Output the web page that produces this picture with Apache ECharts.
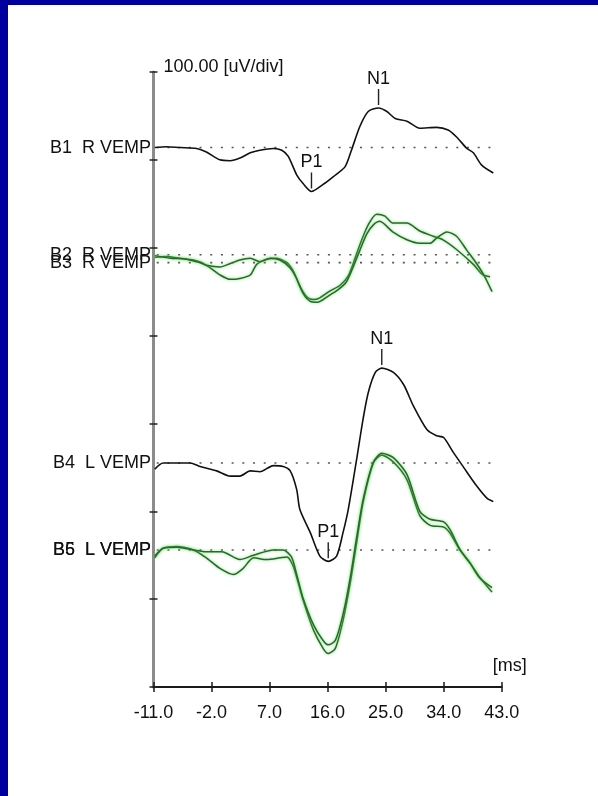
<!DOCTYPE html>
<html>
<head>
<meta charset="utf-8">
<script src="https://cdn.jsdelivr.net/npm/echarts@6/dist/echarts.min.js"></script>
<style>
  html, body { margin: 0; padding: 0; background: #ffffff; }
  #chart { width: 598px; height: 796px; }
</style>
</head>
<body>
<div id="chart"></div>
<script>
// Time axis ticks (ms) and amplitude scale (uV, 100 uV per division)
const timeTicks = [-11, -2, 7, 16, 25, 34, 43];
const ampMax = 700;
const ampStep = 100;

// Trace names and their baseline offsets on the amplitude axis (uV)
const traceNames = ['B1  R VEMP', 'B2  R VEMP', 'B3  R VEMP', 'B4  L VEMP', 'B5  L VEMP', 'B6  L VEMP'];
const baselines = [614, 492, 483, 255, 156, 156];

// Averaged responses: [time ms, amplitude uV relative to baseline]
const b1 = [[-10.8,0],[-9.0,1],[-6.9,0],[-4.3,-1],[-2.8,-5],[-0.7,-14],[0.9,-15],[2.4,-12],[4.0,-6],[5.5,-3],[7.6,-1],[8.9,-3],[9.9,-10],[11.2,-31],[12.2,-41],[13.5,-50],[15.3,-42],[16.9,-33],[18.7,-22],[19.7,-3],[21.0,24],[22.3,41],[23.9,45],[25.2,41],[26.5,33],[28.3,30],[30.3,22],[32.9,23],[34.7,20],[36.0,12],[37.6,-1],[38.6,-6],[39.9,-20],[41.7,-29]];
const b2 = [[-10.8,-3],[-9.0,-2],[-6.9,-4],[-4.8,-6],[-3.5,-9],[-2.2,-15],[-0.7,-23],[0.9,-28],[2.4,-27],[4.0,-23],[5.0,-11],[6.6,-5],[8.1,-4],[9.7,-9],[10.7,-19],[11.7,-36],[12.8,-48],[13.8,-51],[14.8,-49],[16.4,-41],[17.9,-35],[19.2,-24],[20.3,-3],[21.3,17],[22.3,34],[23.6,46],[24.9,44],[26.1,36],[28.3,36],[30.3,27],[32.4,21],[33.9,17],[36.0,6],[38.6,-11],[40.1,-23],[41.2,-25]];
const b3 = [[-10.8,8],[-8.4,5],[-5.9,4],[-3.8,0],[-2.8,-3],[-0.7,-5],[0.9,-1],[2.4,3],[4.0,5],[5.5,1],[7.1,5],[8.6,3],[10.2,-6],[11.2,-18],[12.2,-35],[13.3,-44],[14.5,-45],[16.1,-38],[17.6,-31],[18.9,-22],[19.9,-6],[21.0,14],[22.1,33],[23.1,43],[24.1,47],[26.1,35],[28.3,26],[30.3,22],[31.9,22],[32.9,28],[34.5,35],[36.0,30],[37.6,14],[39.1,-1],[40.3,-15],[41.5,-33]];
const b4 = [[-10.8,-7],[-9.5,0],[-5.3,0],[-3.8,-4],[-1.2,-9],[0.9,-15],[2.4,-15],[4.0,-9],[5.5,-10],[7.6,-3],[9.1,-4],[10.2,-9],[11.2,-30],[11.7,-53],[13.3,-79],[14.8,-106],[16.1,-112],[17.4,-106],[18.4,-79],[19.2,-53],[20.5,4],[21.5,50],[22.3,80],[23.4,103],[24.4,108],[26.2,103],[27.8,89],[29.3,65],[31.4,38],[32.9,31],[34.0,29],[35.5,12],[37.1,-5],[39.1,-26],[40.7,-40],[41.7,-44]];
const b5 = [[-10.8,-9],[-9.5,2],[-7.4,4],[-4.8,0],[-2.8,-9],[-0.7,-21],[1.4,-28],[2.9,-21],[4.5,-9],[6.6,-11],[8.6,-9],[9.7,-8],[10.7,-19],[12.2,-57],[13.8,-91],[15.3,-112],[16.1,-118],[17.2,-112],[18.4,-80],[19.5,-38],[20.5,8],[21.5,54],[23.1,99],[24.4,108],[26.2,100],[28.3,80],[30.3,39],[31.9,28],[34.0,26],[35.0,19],[36.5,0],[38.1,-15],[39.6,-31],[41.5,-48]];
const b6 = [[-10.8,-7],[-9.5,2],[-7.4,3],[-4.8,0],[-2.8,-2],[-0.4,-2],[2.4,-11],[4.5,-6],[7.6,0],[9.1,0],[10.4,-8],[11.2,-28],[12.2,-55],[13.8,-85],[15.3,-103],[16.1,-108],[17.2,-103],[18.4,-73],[19.5,-32],[20.5,14],[21.5,57],[23.1,100],[24.4,110],[26.2,105],[28.3,86],[30.3,44],[31.9,35],[34.0,32],[35.0,23],[36.5,1],[38.1,-15],[39.6,-32],[41.5,-43]];
const traces = [b1, b2, b3, b4, b5, b6];
const traceColors = ['black', 'green', 'green', 'black', 'green', 'green'];

// Marked components: which trace, label, search window (ms) and polarity
const peakMarks = [
  { trace: 0, name: 'P1', window: [10, 20], kind: 'min' },
  { trace: 0, name: 'N1', window: [20, 30], kind: 'max' },
  { trace: 3, name: 'P1', window: [10, 20], kind: 'min' },
  { trace: 3, name: 'N1', window: [20, 30], kind: 'max' }
];

const textColor = '#111111';
const fontFamily = "'Liberation Sans', Arial, sans-serif";
const fontSize = 18;

function findPeak(mark) {
  const pts = traces[mark.trace].filter(p => p[0] >= mark.window[0] && p[0] <= mark.window[1]);
  let best = pts[0];
  pts.forEach(p => {
    if (mark.kind === 'min' ? p[1] < best[1] : p[1] > best[1]) best = p;
  });
  return [best[0], baselines[mark.trace] + best[1]];
}

const lineStyles = {
  black: { color: '#111111', width: 1.6 },
  green: { color: '#2a682a', width: 1.5, shadowColor: 'rgba(90,220,90,0.85)', shadowBlur: 3 }
};

const series = [];

// Dotted baselines, one per distinct offset
[...new Set(baselines)].forEach(b => {
  series.push({
    type: 'line', silent: true, showSymbol: false, z: 1,
    data: [[-10.5, b], [42.4, b]],
    lineStyle: { color: '#555555', width: 1.6, type: [2, 8.7] }
  });
});

// Waveforms
traces.forEach((tr, i) => {
  series.push({
    name: traceNames[i], type: 'line', showSymbol: false, smooth: 0.25, z: 3,
    data: tr.map(p => [p[0], baselines[i] + p[1]]),
    lineStyle: lineStyles[traceColors[i]]
  });
});

// Trace name labels at the start of each baseline
series.push({
  type: 'scatter', silent: true, symbolSize: 1, z: 4,
  itemStyle: { color: 'rgba(0,0,0,0)', opacity: 1 },
  data: traceNames.map((n, i) => ({ value: [timeTicks[0], baselines[i]], name: n })),
  label: {
    show: true, position: 'left', distance: 2,
    formatter: p => p.name,
    color: textColor, fontFamily, fontSize
  }
});

// Peak markers with their component names
series.push({
  type: 'scatter', silent: true, z: 5,
  symbol: 'rect', symbolSize: [1.4, 16], symbolOffset: [0, -11],
  itemStyle: { color: '#222', opacity: 1 },
  data: peakMarks.map(m => ({ value: findPeak(m), name: m.name })),
  label: {
    show: true, position: 'top', distance: 1,
    formatter: p => p.name,
    color: textColor, fontFamily, fontSize
  }
});

const chart = echarts.init(document.getElementById('chart'), null, { renderer: 'canvas' });
chart.setOption({
  animation: false,
  backgroundColor: '#ffffff',
  textStyle: { fontFamily },
  grid: { left: 153.5, right: 96.3, top: 72, bottom: 109, containLabel: false },
  xAxis: [
    {
      type: 'value', min: timeTicks[0], max: timeTicks[timeTicks.length - 1],
      name: '[ms]', nameLocation: 'end', nameGap: 25,
      nameTextStyle: { color: textColor, fontSize, fontFamily, align: 'right', verticalAlign: 'bottom', padding: [0, 0, 12, 0] },
      axisLine: { show: true, onZero: false, lineStyle: { color: '#1a1a1a', width: 2 } },
      axisTick: { show: true, inside: false, length: 5, lineStyle: { color: '#1a1a1a', width: 1.5 }, customValues: timeTicks },
      axisLabel: { show: true, margin: 17, color: textColor, fontSize, fontFamily, customValues: timeTicks, formatter: v => v.toFixed(1) },
      splitLine: { show: false }
    },
    {
      type: 'value', min: timeTicks[0], max: timeTicks[timeTicks.length - 1], position: 'bottom',
      axisLine: { show: false, onZero: false },
      axisTick: { show: true, inside: true, length: 5, lineStyle: { color: '#1a1a1a', width: 1.5 }, customValues: timeTicks },
      axisLabel: { show: false },
      splitLine: { show: false }
    }
  ],
  yAxis: [
    {
      type: 'value', min: 0, max: ampMax, interval: ampStep,
      name: '100.00 [uV/div]', nameLocation: 'end', nameGap: -4,
      nameTextStyle: { color: textColor, fontSize, fontFamily, align: 'left', padding: [0, 0, 0, 10] },
      axisLine: { show: true, onZero: false, lineStyle: { color: '#8c8c8c', width: 3 } },
      axisTick: { show: true, inside: false, length: 4, lineStyle: { color: '#222', width: 1.5 } },
      axisLabel: { show: false },
      splitLine: { show: false }
    },
    {
      type: 'value', min: 0, max: ampMax, interval: ampStep, position: 'left',
      axisLine: { show: false, onZero: false },
      axisTick: { show: true, inside: true, length: 4, lineStyle: { color: '#222', width: 1.5 } },
      axisLabel: { show: false },
      splitLine: { show: false }
    }
  ],
  graphic: [
    { type: 'rect', z: 100, shape: { x: 0, y: 0, width: 598, height: 5 }, style: { fill: '#0000a0' } },
    { type: 'rect', z: 100, shape: { x: 0, y: 0, width: 8, height: 796 }, style: { fill: '#0000a0' } }
  ],
  series
});
</script>
</body>
</html>
